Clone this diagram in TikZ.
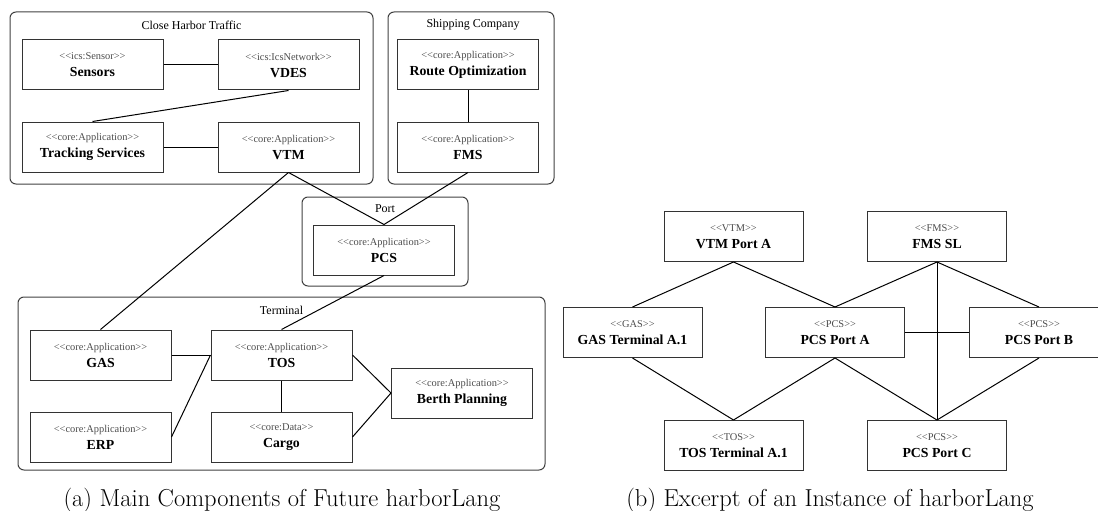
\documentclass[tikz,border=0pt]{standalone}
\usepackage{fontspec}
\newfontfamily\umlfont{Liberation Serif}
\newcommand{\stereotype}[1]{{\fontsize{10.4}{17}\selectfont\color{black!70}\textless\textless#1\textgreater\textgreater}}
\tikzset{
  comp/.style={draw=black!80, line width=1pt, minimum width=141, minimum height=50,
    inner sep=0pt, align=center, font=\umlfont\fontsize{13.8}{17}\selectfont},
  inst/.style={comp, minimum width=139},
  group/.style={draw=black!75, line width=1pt, rounded corners=6pt, inner sep=0pt},
  grouptitle/.style={font=\umlfont\fontsize{12}{14}\selectfont, inner sep=0pt},
  link/.style={line width=1pt},
  caption/.style={font=\fontsize{24.5}{28}\selectfont, inner sep=0pt, anchor=base}
}
\begin{document}
\begin{tikzpicture}[x=1pt,y=-1pt]
  \useasboundingbox (0,0) rectangle (1098,511);

  % Gruppen
  \node[group, minimum width=363, minimum height=172] (harbor) at (191.5,98) {};
  \node[grouptitle] (harbortitle) at (191.5,25) {Close Harbor Traffic};
  \node[group, minimum width=166, minimum height=172] (shipping) at (471,98) {};
  \node[grouptitle] (shippingtitle) at (473,25) {Shipping Company};
  \node[group, minimum width=166, minimum height=89] (port) at (385,241.5) {};
  \node[grouptitle] (porttitle) at (385,209) {Port};
  \node[group, minimum width=527, minimum height=173] (terminal) at (281.5,383.5) {};
  \node[grouptitle] (terminaltitle) at (281.5,310) {Terminal};

  % Komponenten (a)
  \node[comp] (sensors) at (92.5,65) {\stereotype{ics:Sensor}\\\textbf{Sensors}};
  \node[comp] (vdes) at (288.5,65) {\stereotype{ics:IcsNetwork}\\\textbf{VDES}};
  \node[comp] (tracking) at (92.5,147) {\stereotype{core:Application}\\\textbf{Tracking Services}};
  \node[comp] (vtm) at (288.5,147) {\stereotype{core:Application}\\\textbf{VTM}};
  \node[comp] (route) at (468,65) {\stereotype{core:Application}\\\textbf{Route Optimization}};
  \node[comp] (fms) at (468,147) {\stereotype{core:Application}\\\textbf{FMS}};
  \node[comp] (pcs) at (384,250) {\stereotype{core:Application}\\\textbf{PCS}};
  \node[comp] (gas) at (100.5,355) {\stereotype{core:Application}\\\textbf{GAS}};
  \node[comp] (tos) at (281.5,355) {\stereotype{core:Application}\\\textbf{TOS}};
  \node[comp] (erp) at (100.5,437) {\stereotype{core:Application}\\\textbf{ERP}};
  \node[comp] (cargo) at (281.5,437) {\stereotype{core:Data}\\\textbf{Cargo}};
  \node[comp] (berth) at (462,393) {\stereotype{core:Application}\\\textbf{Berth Planning}};

  % Verbindungen (a)
  \draw[link] (sensors.east) -- (vdes.west);
  \draw[link] (vdes.south) -- (tracking.north);
  \draw[link] (tracking.east) -- (vtm.west);
  \draw[link] (route.south) -- (fms.north);
  \draw[link] (vtm.south) -- (pcs.north);
  \draw[link] (fms.south) -- (pcs.north);
  \draw[link] (vtm.south) -- (gas.north);
  \draw[link] (pcs.south) -- (tos.north);
  \draw[link] (gas.east) -- (tos.west);
  \draw[link] (erp.east) -- (tos.west);
  \draw[link] (tos.south) -- (cargo.north);
  \draw[link] (tos.east) -- (berth.west);
  \draw[link] (cargo.east) -- (berth.west);

  % Instanzen (b)
  \node[inst] (vtmA) at (733.5,236.5) {\stereotype{VTM}\\\textbf{VTM Port A}};
  \node[inst] (fmsSL) at (937,236.5) {\stereotype{FMS}\\\textbf{FMS SL}};
  \node[inst] (gasA) at (632.5,332.5) {\stereotype{GAS}\\\textbf{GAS Terminal A.1}};
  \node[inst] (pcsA) at (835,332.5) {\stereotype{PCS}\\\textbf{PCS Port A}};
  \node[inst] (pcsB) at (1039,332.5) {\stereotype{PCS}\\\textbf{PCS Port B}};
  \node[inst] (tosA) at (733.5,445.5) {\stereotype{TOS}\\\textbf{TOS Terminal A.1}};
  \node[inst] (pcsC) at (937,445.5) {\stereotype{PCS}\\\textbf{PCS Port C}};

  % Verbindungen (b)
  \draw[link] (vtmA.south) -- (gasA.north);
  \draw[link] (vtmA.south) -- (pcsA.north);
  \draw[link] (fmsSL.south) -- (pcsA.north);
  \draw[link] (fmsSL.south) -- (pcsB.north);
  \draw[link] (fmsSL.south) -- (pcsC.north);
  \draw[link] (pcsA.east) -- (pcsB.west);
  \draw[link] (gasA.south) -- (tosA.north);
  \draw[link] (pcsA.south) -- (tosA.north);
  \draw[link] (pcsA.south) -- (pcsC.north);
  \draw[link] (pcsB.south) -- (pcsC.north);

  % Untertitel
  \node[caption] (capA) at (282,506) {(a) Main Components of Future harborLang};
  \node[caption] (capB) at (830,506) {(b) Excerpt of an Instance of harborLang};
\end{tikzpicture}
\end{document}
